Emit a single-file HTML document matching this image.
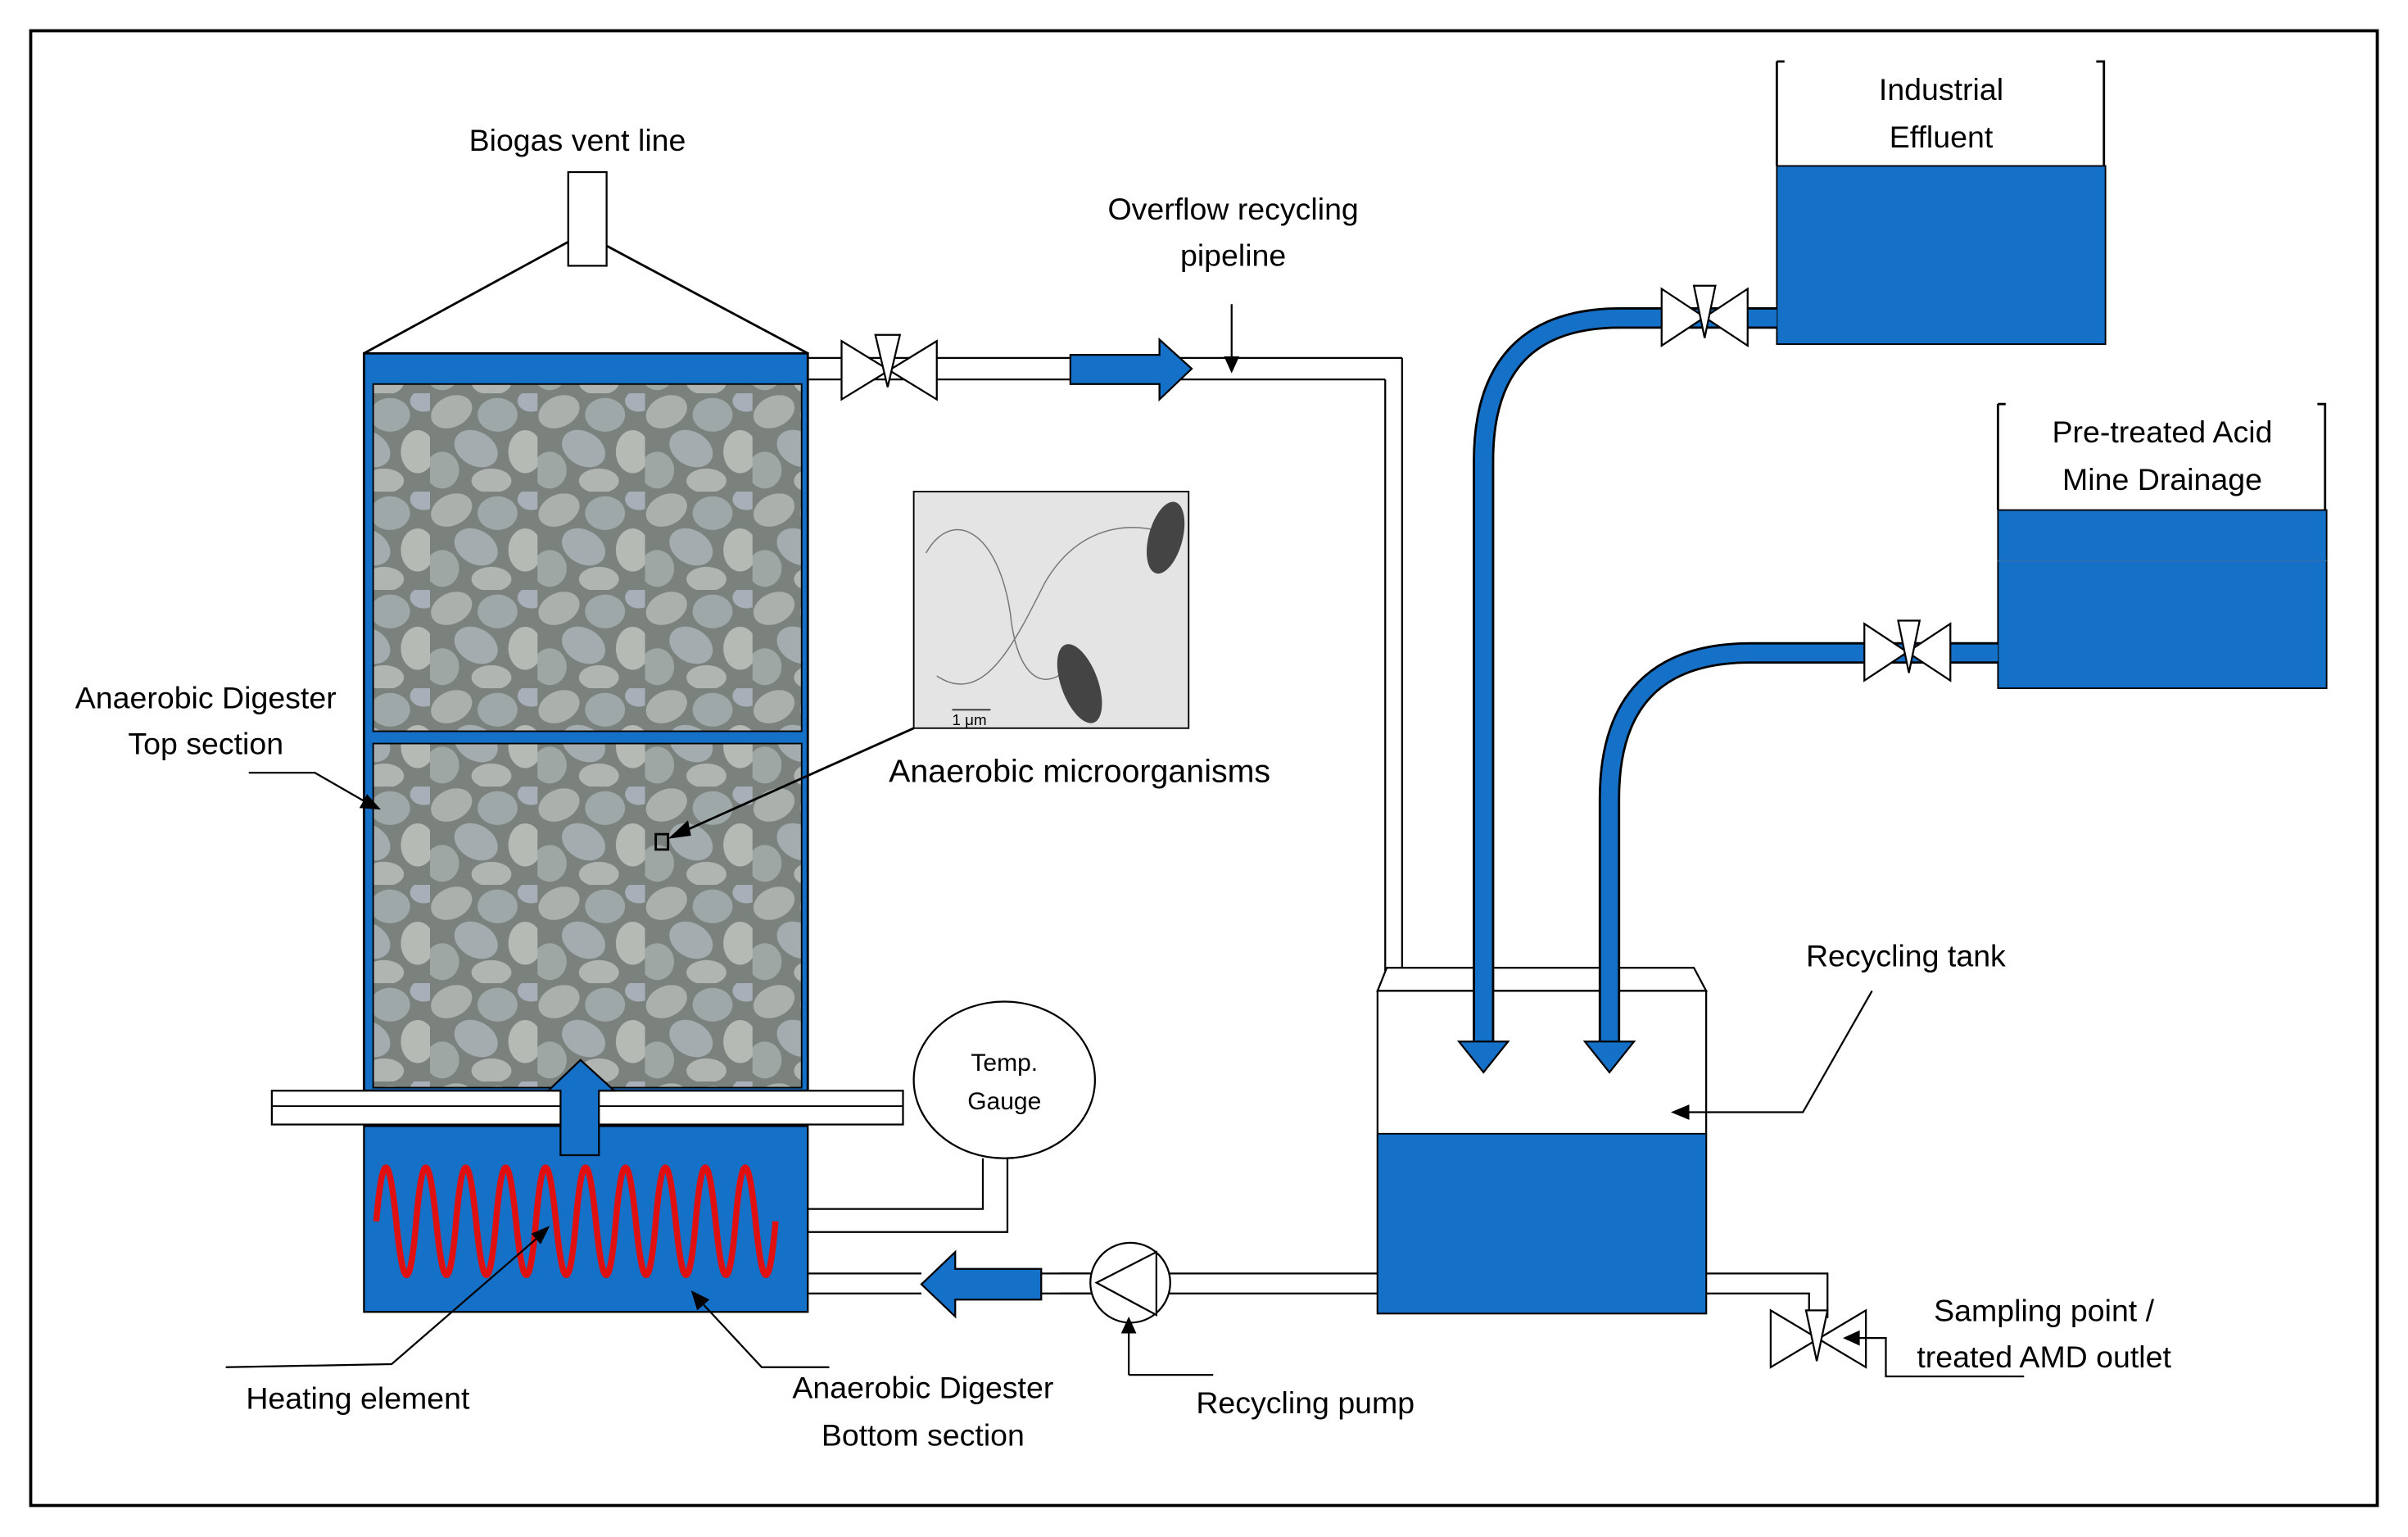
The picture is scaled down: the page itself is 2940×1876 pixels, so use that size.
<!DOCTYPE html>
<html><head><meta charset="utf-8"><style>html,body{margin:0;padding:0;background:#fff}svg{display:block}text{font-family:"Liberation Sans",sans-serif;fill:#000}</style></head>
<body>
<svg width="2940" height="1876" viewBox="0 0 1568 1000.5" xmlns="http://www.w3.org/2000/svg">
<defs>
<pattern id="rock" width="70" height="64" patternUnits="userSpaceOnUse">
<rect width="70" height="64" fill="#7b827e"/>
<ellipse cx="14" cy="12" rx="14" ry="10" fill="#aab1ad" transform="rotate(-25 14 12)"/>
<ellipse cx="44" cy="14" rx="13" ry="11" fill="#9fa8a8"/>
<ellipse cx="62" cy="38" rx="11" ry="14" fill="#b5bab4"/>
<ellipse cx="30" cy="36" rx="15" ry="11" fill="#a4acb0" transform="rotate(30 30 36)"/>
<ellipse cx="8" cy="50" rx="11" ry="12" fill="#9ea7a3"/>
<ellipse cx="40" cy="57" rx="13" ry="8" fill="#b0b5b1"/>
<ellipse cx="66" cy="5" rx="9" ry="7" fill="#a9afb8"/>
</pattern>
</defs>
<rect x="20" y="20" width="1528" height="960" fill="none" stroke="#000" stroke-width="2"/>

<polyline points="237,230 380,152 526,230" fill="none" stroke="#000" stroke-width="1.5"/>
<rect x="370" y="112" width="25" height="61" fill="#fff" stroke="#000" stroke-width="1.2"/>
<text x="376" y="98" font-size="20" text-anchor="middle">Biogas vent line</text>

<rect x="237" y="230" width="289" height="480" fill="#1570c8" stroke="#000" stroke-width="1.5"/>
<rect x="243" y="250" width="279" height="226" fill="url(#rock)" stroke="#000"/>
<rect x="243" y="484" width="279" height="224" fill="url(#rock)" stroke="#000"/>
<rect x="427" y="543" width="8" height="10" fill="none" stroke="#000" stroke-width="1.5"/>

<rect x="595" y="320" width="179" height="154" fill="#e4e4e4" stroke="#000"/>
<path d="M603,360 C620,330 650,345 658,400 C662,440 680,455 700,430" fill="none" stroke="#777" stroke-width="0.8"/>
<path d="M610,440 C640,460 660,420 680,380 C700,345 730,340 752,345" fill="none" stroke="#777" stroke-width="0.8"/>
<ellipse cx="759" cy="350" rx="11" ry="24" fill="#444" transform="rotate(15 759 350)"/>
<ellipse cx="703" cy="445" rx="12" ry="27" fill="#444" transform="rotate(-20 703 445)"/>
<line x1="620" y1="462" x2="645" y2="462" stroke="#333" stroke-width="1"/>
<text x="620" y="472" font-size="10" fill="#333">1 μm</text>
<line x1="595" y1="474" x2="441" y2="543" stroke="#000" stroke-width="1.5"/>
<polygon points="435,546 448,534 450,544" fill="#000"/>
<text x="703" y="509" font-size="21" text-anchor="middle">Anaerobic microorganisms</text>

<text x="134" y="461" font-size="20" text-anchor="middle">Anaerobic Digester</text>
<text x="134" y="491" font-size="20" text-anchor="middle">Top section</text>
<polyline points="162,503 205,503 238,522" fill="none" stroke="#000" stroke-width="1.2"/>
<polygon points="248,527 234,526 239,517" fill="#000"/>

<rect x="177" y="710" width="411" height="22" fill="#fff" stroke="#000" stroke-width="1.2"/>
<line x1="177" y1="720" x2="588" y2="720" stroke="#000" stroke-width="1"/>

<rect x="237" y="733" width="289" height="121" fill="#1570c8" stroke="#000" stroke-width="1.2"/>
<polygon points="365,752 365,710 357,710 378,690 400,710 390,710 390,752" fill="#1570c8" stroke="#000" stroke-width="1.2"/>
<path d="M245,795 q6,-70 13,0 t13,0 t13,0 t13,0 t13,0 t13,0 t13,0 t13,0 t13,0 t13,0 t13,0 t13,0 t13,0 t13,0 t13,0 t13,0 t13,0 t13,0 t13,0 t13,0" fill="none" stroke="#e01010" stroke-width="4"/>

<ellipse cx="654" cy="703" rx="59" ry="51" fill="#fff" stroke="#000" stroke-width="1.2"/>
<text x="654" y="697" font-size="16" text-anchor="middle">Temp.</text>
<text x="654" y="722" font-size="16" text-anchor="middle">Gauge</text>
<polyline points="526,787 640,787 640,754" fill="none" stroke="#000" stroke-width="1.2"/>
<polyline points="526,802 656,802 656,754" fill="none" stroke="#000" stroke-width="1.2"/>

<line x1="526" y1="829" x2="897" y2="829" stroke="#000" stroke-width="1.2"/>
<line x1="526" y1="842" x2="897" y2="842" stroke="#000" stroke-width="1.2"/>
<rect x="600" y="826" width="90" height="19" fill="#fff"/>
<polygon points="678,826 622,826 622,815 600,836 622,857 622,846 678,846" fill="#1570c8" stroke="#000" stroke-width="1.2"/>
<line x1="678" y1="829" x2="710" y2="829" stroke="#000" stroke-width="1.2"/>
<line x1="678" y1="842" x2="710" y2="842" stroke="#000" stroke-width="1.2"/>
<circle cx="736" cy="835" r="26" fill="#fff" stroke="#000" stroke-width="1.2"/>
<polygon points="714,835 753,815 753,856" fill="#fff" stroke="#000" stroke-width="1.2"/>
<polyline points="735,895 790,895" fill="none" stroke="#000" stroke-width="1.2"/>
<line x1="735" y1="895" x2="735" y2="866" stroke="#000" stroke-width="1.2"/>
<polygon points="735,857 730,868 740,868" fill="#000"/>
<text x="850" y="920" font-size="20" text-anchor="middle">Recycling pump</text>

<polyline points="147,890 255,888 352,804" fill="none" stroke="#000" stroke-width="1.2"/>
<polygon points="358,798 346,803 352,810" fill="#000"/>
<text x="233" y="917" font-size="20" text-anchor="middle">Heating element</text>
<polyline points="540,890 496,890 456,847" fill="none" stroke="#000" stroke-width="1.2"/>
<polygon points="450,840 454,853 462,846" fill="#000"/>
<text x="601" y="910" font-size="20" text-anchor="middle">Anaerobic Digester</text>
<text x="601" y="941" font-size="20" text-anchor="middle">Bottom section</text>

<line x1="526" y1="233" x2="913" y2="233" stroke="#000" stroke-width="1.2"/>
<line x1="526" y1="247" x2="902" y2="247" stroke="#000" stroke-width="1.2"/>
<line x1="913" y1="233" x2="913" y2="632" stroke="#000" stroke-width="1.2"/>
<line x1="902" y1="247" x2="902" y2="632" stroke="#000" stroke-width="1.2"/>
<polygon points="548,222 548,260 610,222 610,260" fill="#fff" stroke="#000" stroke-width="1.2"/>
<polygon points="570,218 586,218 578,252" fill="#fff" stroke="#000" stroke-width="1.2"/>
<polygon points="697,231 755,231 755,221 776,240 755,260 755,250 697,250" fill="#1570c8" stroke="#000" stroke-width="1.2"/>
<line x1="802" y1="198" x2="802" y2="236" stroke="#000" stroke-width="1.2"/>
<polygon points="802,243 797,232 807,232" fill="#000"/>
<text x="803" y="143" font-size="20" text-anchor="middle">Overflow recycling</text>
<text x="803" y="173" font-size="20" text-anchor="middle">pipeline</text>

<polygon points="897,645 903,630 1103,630 1111,645" fill="#fff" stroke="#000" stroke-width="1.2"/>
<rect x="897" y="645" width="214" height="210" fill="#fff" stroke="#000" stroke-width="1.2"/>
<rect x="897" y="738" width="214" height="117" fill="#1570c8" stroke="#000" stroke-width="1"/>
<text x="1241" y="629" font-size="20" text-anchor="middle">Recycling tank</text>
<polyline points="1219,645 1174,724 1098,724" fill="none" stroke="#000" stroke-width="1.2"/>
<polygon points="1088,724 1100,719 1100,729" fill="#000"/>

<polyline points="1111,829 1190,829 1190,858" fill="none" stroke="#000" stroke-width="1.2"/>
<polyline points="1111,842 1178,842 1178,858" fill="none" stroke="#000" stroke-width="1.2"/>
<polygon points="1153,853 1153,890 1215,853 1215,890" fill="#fff" stroke="#000" stroke-width="1.2"/>
<polygon points="1176,853 1190,853 1183,886" fill="#fff" stroke="#000" stroke-width="1.2"/>
<polyline points="1318,896 1228,896 1228,871 1208,871" fill="none" stroke="#000" stroke-width="1.2"/>
<polygon points="1200,871 1211,866 1211,876" fill="#000"/>
<text x="1331" y="860" font-size="20" text-anchor="middle">Sampling point /</text>
<text x="1331" y="890" font-size="20" text-anchor="middle">treated AMD outlet</text>

<line x1="1157" y1="40" x2="1157" y2="108" stroke="#000" stroke-width="1.5"/>
<line x1="1157" y1="40" x2="1162" y2="40" stroke="#000" stroke-width="1.5"/>
<polyline points="1365,40 1370,40 1370,108" fill="none" stroke="#000" stroke-width="1.5"/>
<rect x="1157" y="108" width="214" height="116" fill="#1570c8" stroke="#000" stroke-width="1"/>
<text x="1264" y="65" font-size="20" text-anchor="middle">Industrial</text>
<text x="1264" y="96" font-size="20" text-anchor="middle">Effluent</text>
<path d="M1157,207 L1055,207 Q966,207 966,300 L966,680" fill="none" stroke="#000" stroke-width="14"/>
<path d="M1157,207 L1055,207 Q966,207 966,300 L966,680" fill="none" stroke="#1570c8" stroke-width="11"/>
<polygon points="950,678 982,678 966,698" fill="#1570c8" stroke="#000" stroke-width="1.2"/>
<polygon points="1082,188 1082,225 1138,188 1138,225" fill="#fff" stroke="#000" stroke-width="1.2"/>
<polygon points="1103,186 1117,186 1110,220" fill="#fff" stroke="#000" stroke-width="1.2"/>

<line x1="1301" y1="263" x2="1301" y2="332" stroke="#000" stroke-width="1.5"/>
<line x1="1301" y1="263" x2="1306" y2="263" stroke="#000" stroke-width="1.5"/>
<polyline points="1509,263 1514,263 1514,332" fill="none" stroke="#000" stroke-width="1.5"/>
<rect x="1301" y="332" width="214" height="116" fill="#1570c8" stroke="#000" stroke-width="1"/>
<line x1="1301" y1="365" x2="1515" y2="365" stroke="#2a6fb0" stroke-width="1"/>
<text x="1408" y="288" font-size="20" text-anchor="middle">Pre-treated Acid</text>
<text x="1408" y="319" font-size="20" text-anchor="middle">Mine Drainage</text>
<path d="M1301,425 L1140,425 Q1048,425 1048,520 L1048,680" fill="none" stroke="#000" stroke-width="14"/>
<path d="M1301,425 L1140,425 Q1048,425 1048,520 L1048,680" fill="none" stroke="#1570c8" stroke-width="11"/>
<polygon points="1032,678 1064,678 1048,698" fill="#1570c8" stroke="#000" stroke-width="1.2"/>
<polygon points="1214,406 1214,443 1270,406 1270,443" fill="#fff" stroke="#000" stroke-width="1.2"/>
<polygon points="1236,404 1250,404 1243,438" fill="#fff" stroke="#000" stroke-width="1.2"/>
</svg>
</body></html>
